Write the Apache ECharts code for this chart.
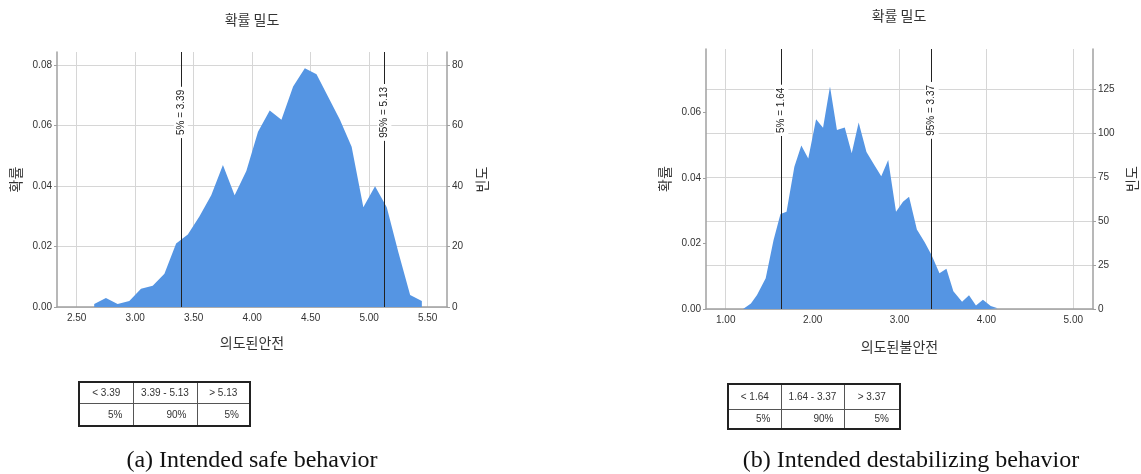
<!DOCTYPE html>
<html>
<head>
<meta charset="utf-8">
<script src="https://cdn.jsdelivr.net/npm/echarts@6/dist/echarts.min.js"></script>
<style>
html,body{margin:0;padding:0;background:#fff;}
#wrap{position:relative;width:1141px;height:474px;overflow:hidden;background:#fff;}
#chart{position:absolute;left:0;top:0;width:1141px;height:474px;}
table.pct{position:absolute;border-collapse:collapse;table-layout:fixed;border:2px solid #222;
  font-family:'Liberation Sans',Arial,sans-serif;font-size:10px;color:#333;}
table.pct td{border:1px solid #555;padding:0;box-sizing:border-box;}
table.pct tr.h td{text-align:center;}
table.pct tr.v td{text-align:right;padding-right:10px;}
.cap{position:absolute;font-family:'Liberation Serif','Times New Roman',serif;font-size:24px;color:#111;white-space:nowrap;transform:translate(-50%,-50%);}
</style>
</head>
<body>
<div id="wrap">
  <div id="chart"></div>
</div>
<script>
// ---------- data ----------
const leftX = [2.65,2.75,2.85,2.95,3.05,3.15,3.25,3.35,3.45,3.55,3.65,3.75,3.85,3.95,4.05,4.15,4.25,4.35,4.45,4.55,4.65,4.75,4.85,4.95,5.05,5.15,5.25,5.35,5.45];
const leftProb = [0.001,0.003,0.001,0.002,0.006,0.007,0.011,0.021,0.024,0.030,0.037,0.047,0.037,0.045,0.058,0.065,0.062,0.073,0.079,0.077,0.0695,0.062,0.053,0.033,0.040,0.033,0.018,0.004,0.002];

const rightX = [1.20,1.29,1.36,1.46,1.55,1.63,1.70,1.79,1.87,1.95,2.04,2.12,2.20,2.28,2.37,2.45,2.53,2.62,2.71,2.79,2.87,2.96,3.04,3.11,3.20,3.29,3.37,3.46,3.54,3.62,3.72,3.80,3.88,3.96,4.05,4.13];
const rightProb = [0,0.0017,0.0043,0.0094,0.021,0.029,0.0297,0.0435,0.050,0.046,0.058,0.0554,0.068,0.0547,0.0555,0.0476,0.057,0.048,0.044,0.0406,0.0455,0.0297,0.0328,0.0343,0.0243,0.0204,0.0164,0.0109,0.0123,0.0054,0.0022,0.0042,0.0011,0.0028,0.0009,0.0002];

const leftXTicks = [2.5,3.0,3.5,4.0,4.5,5.0,5.5];
const leftProbTicks = [0,0.02,0.04,0.06,0.08];
const leftFreqTicks = [0,20,40,60,80];
const rightXTicks = [1,2,3,4,5];
const rightProbTicks = [0,0.02,0.04,0.06];
const rightFreqTicks = [0,25,50,75,100,125];

const leftPercentiles = [3.39, 5.13];
const rightPercentiles = [1.64, 3.37];
const percentileNames = ['5%', '95%'];

const titleText = '확률 밀도';
const leftXName = '의도된안전';
const rightXName = '의도된불안전';
const probName = '확률';
const freqName = '빈도';

const leftTableHead = ['< 3.39', '3.39 - 5.13', '> 5.13'];
const leftTableVals = ['5%', '90%', '5%'];
const rightTableHead = ['< 1.64', '1.64 - 3.37', '> 3.37'];
const rightTableVals = ['5%', '90%', '5%'];

const captions = ['(a) Intended safe behavior', '(b) Intended destabilizing behavior'];

// ---------- styles / layout ----------
const AREA = '#5595e3';
const AXIS = '#a0a0a0';
const GRID = '#d6d6d6';
const LAT = 'Liberation Sans, Arial, sans-serif';
const KR = 'Noto Sans CJK KR, sans-serif';
const tickLabel = {color:'#333', fontSize:10, fontFamily:LAT};
const nameStyle = {color:'#333', fontSize:14, fontFamily:KR};

const L = {xMin:2.332, xMax:5.665, pMax:0.0844, fMax:84.4, labC:0.0644, labH:0.0105};
const R = {xMin:0.773, xMax:5.227, pMax:0.07945, fMax:147.9, labC:0.0607, labH:0.0105};

function markLines(vals, cfg) {
  const data = [];
  vals.forEach((v, i) => {
    data.push([{coord:[v, 0], label:{show:false}}, {coord:[v, cfg.pMax]}]);
    data.push([
      {coord:[v, cfg.labC - cfg.labH], lineStyle:{width:0, color:'rgba(255,255,255,0)'},
       label:{show:true, position:'middle', formatter: percentileNames[i] + ' = ' + v.toFixed(2),
              color:'#222', fontSize:10, fontFamily:LAT, backgroundColor:'#fff', padding:[2,3],
              distance:0, align:'center', verticalAlign:'middle'}},
      {coord:[v, cfg.labC + cfg.labH]}
    ]);
  });
  return {silent:true, symbol:['none','none'], animation:false,
          lineStyle:{color:'#222', width:1, type:'solid'}, data};
}

function xAxis(grid, cfg, ticks, name, gap) {
  return {type:'value', gridIndex:grid, min:cfg.xMin, max:cfg.xMax,
    axisLine:{show:true, onZero:false, lineStyle:{color:AXIS, width:1.5}},
    axisTick:{show:false, customValues:ticks},
    axisLabel:Object.assign({customValues:ticks, margin:6, formatter:v=>v.toFixed(2)}, tickLabel),
    splitLine:{show:true, lineStyle:{color:GRID, width:1}},
    name:name, nameLocation:'middle', nameGap:gap, nameTextStyle:nameStyle};
}
function yAxis(grid, pos, max, ticks, fmt, split, name, gap) {
  return {type:'value', gridIndex:grid, position:pos, min:0, max:max,
    axisLine:{show:true, lineStyle:{color:AXIS, width:1.5}},
    axisTick:{show:true, length:3, customValues:ticks, lineStyle:{color:AXIS}},
    axisLabel:Object.assign({customValues:ticks, margin:5, formatter:fmt}, tickLabel),
    splitLine:{show:split, lineStyle:{color:GRID, width:1}},
    name:name, nameLocation:'middle', nameGap:gap, nameTextStyle:nameStyle};
}

const chart = echarts.init(document.getElementById('chart'), null, {renderer:'canvas'});
chart.setOption({
  animation:false,
  backgroundColor:'#fff',
  grid:[
    {left:57, top:52, width:390, height:255},
    {left:706, top:49, width:387, height:260}
  ],
  xAxis:[
    xAxis(0, L, leftXTicks, leftXName, 29),
    xAxis(1, R, rightXTicks, rightXName, 31)
  ],
  yAxis:[
    yAxis(0, 'left', L.pMax, leftProbTicks, v=>v.toFixed(2), true, probName, 34),
    yAxis(0, 'right', L.fMax, leftFreqTicks, v=>String(v), false, freqName, 28),
    yAxis(1, 'left', R.pMax, rightProbTicks, v=>v.toFixed(2), false, probName, 34),
    yAxis(1, 'right', R.fMax, rightFreqTicks, v=>String(v), true, freqName, 32)
  ],
  graphic:[
    {type:'text', x:252, y:20, style:{text:titleText, align:'center', verticalAlign:'middle', font:'14px "Noto Sans CJK KR"', fill:'#333'}},
    {type:'text', x:899, y:16, style:{text:titleText, align:'center', verticalAlign:'middle', font:'14px "Noto Sans CJK KR"', fill:'#333'}}
  ],
  series:[
    {type:'line', xAxisIndex:0, yAxisIndex:0, symbol:'none', silent:true,
     data:leftX.map((x,i)=>[x, leftProb[i]]),
     lineStyle:{width:0, color:AREA}, areaStyle:{color:AREA, opacity:1},
     markLine:markLines(leftPercentiles, L)},
    {type:'line', xAxisIndex:1, yAxisIndex:2, symbol:'none', silent:true,
     data:rightX.map((x,i)=>[x, rightProb[i]]),
     lineStyle:{width:0, color:AREA}, areaStyle:{color:AREA, opacity:1},
     markLine:markLines(rightPercentiles, R)}
  ]
});

// ---------- tables & captions ----------
function makeTable(left, top, cols, rows, head, vals) {
  const t = document.createElement('table');
  t.className = 'pct';
  t.style.left = left + 'px'; t.style.top = top + 'px';
  const cg = document.createElement('colgroup');
  cols.forEach(w => { const c = document.createElement('col'); c.style.width = w + 'px'; cg.appendChild(c); });
  t.appendChild(cg);
  [[head,'h',rows[0]],[vals,'v',rows[1]]].forEach(([arr,cls,h]) => {
    const tr = document.createElement('tr'); tr.className = cls; tr.style.height = h + 'px';
    arr.forEach(s => { const td = document.createElement('td'); td.textContent = s; tr.appendChild(td); });
    t.appendChild(tr);
  });
  document.getElementById('wrap').appendChild(t);
}
makeTable(78, 381, [54,64,53], [21,23], leftTableHead, leftTableVals);
makeTable(727, 383, [53,63,56], [25,20], rightTableHead, rightTableVals);

[[252, 459], [911, 459]].forEach((p, i) => {
  const d = document.createElement('div');
  d.className = 'cap'; d.style.left = p[0] + 'px'; d.style.top = p[1] + 'px';
  d.textContent = captions[i];
  document.getElementById('wrap').appendChild(d);
});
</script>
</body>
</html>
